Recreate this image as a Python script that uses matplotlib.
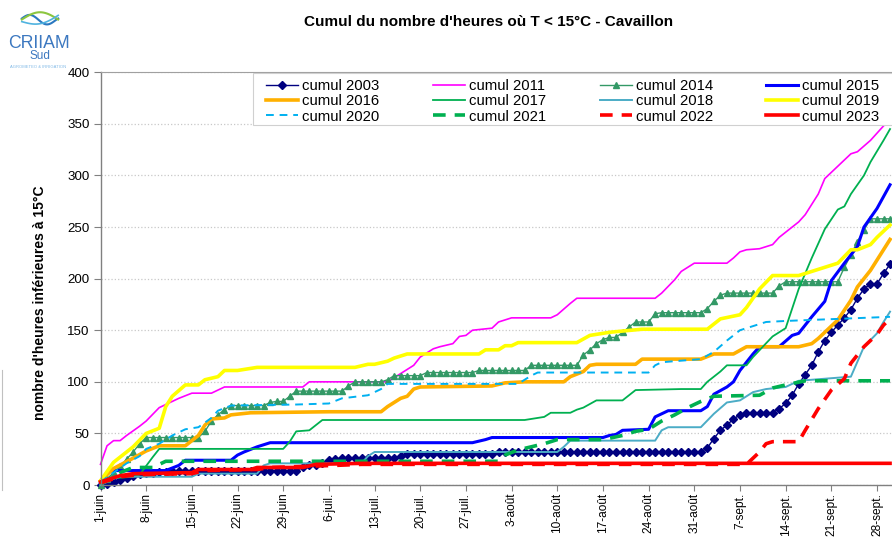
import matplotlib
matplotlib.use('Agg')
import matplotlib.pyplot as plt
import numpy as np
from matplotlib.lines import Line2D
from matplotlib.patches import Rectangle

plt.rcParams['font.family'] = ['Liberation Sans', 'DejaVu Sans']

# ---------------- data ----------------
tick_days = [0, 7, 14, 21, 28, 35, 42, 49, 56, 63, 70, 77, 84, 91, 98, 105, 112, 119]
tick_labels = ['1-juin', '8-juin', '15-juin', '22-juin', '29-juin', '6-juil.', '13-juil.',
               '20-juil.', '27-juil.', '3-août', '10-août', '17-août', '24-août', '31-août',
               '7-sept.', '14-sept.', '21-sept.', '28-sept.']

# daily values (1 June .. 30 Sept)
vals_2003 = [0, 1, 3, 5, 7, 9, 11, 12, 12, 13,
             13, 14, 14, 14, 14, 14, 14, 14, 14, 14,
             14, 14, 14, 14, 14, 14, 14, 14, 14, 14,
             14, 17, 19, 19, 21, 24, 25, 26, 26, 26,
             26, 26, 26, 26, 26, 26, 28, 30, 30, 30,
             30, 30, 30, 30, 30, 30, 30, 30, 30, 30,
             30, 32, 32, 32, 32, 32, 32, 32, 32, 32,
             32, 32, 32, 32, 32, 32, 32, 32, 32, 32,
             32, 32, 32, 32, 32, 32, 32, 32, 32, 32,
             32, 32, 32, 36, 45, 53, 58, 64, 68, 70,
             70, 70, 70, 70, 74, 79, 87, 98, 107, 116,
             129, 140, 148, 155, 162, 170, 181, 190, 195, 195,
             205, 214]
vals_2014 = [0, 6, 12, 18, 25, 32, 40, 46, 46, 46,
             46, 46, 46, 46, 46, 46, 52, 62, 68, 73,
             77, 77, 77, 77, 77, 77, 80, 81, 81, 86,
             91, 91, 91, 91, 91, 91, 91, 91, 96, 100,
             100, 100, 100, 100, 102, 106, 106, 106, 106, 106,
             109, 109, 109, 109, 109, 109, 109, 109, 111, 111,
             111, 111, 111, 111, 111, 111, 116, 116, 116, 116,
             116, 116, 116, 116, 126, 131, 137, 141, 143, 143,
             148, 153, 158, 158, 158, 166, 167, 167, 167, 167,
             167, 167, 167, 171, 178, 184, 186, 186, 186, 186,
             186, 186, 186, 186, 193, 197, 197, 197, 197, 197,
             197, 197, 197, 197, 211, 223, 236, 247, 258, 258,
             258, 258]

# break points (day index, cumulative hours) for the other years
days_2011 = [0, 1, 2, 3, 4, 6, 7, 9, 11, 12, 14, 17, 19, 31, 32, 44, 46, 48, 49, 51, 52, 54, 55, 56, 57,
             60, 61, 63, 69, 70, 72, 73, 85, 86, 88, 89, 91, 96, 97, 98, 99, 101, 103, 104, 106, 107,
             108, 110, 111, 113, 115, 116, 118, 120, 121]
vals_2011 = [20, 38, 43, 43, 48, 57, 62, 75, 81, 84, 89, 89, 95, 95, 100, 100, 108, 116, 124, 132, 134, 137,
             144, 145, 150, 152, 158, 162, 162, 165, 176, 181, 181, 186, 199, 207, 215, 215, 220, 226, 228,
             229, 233, 240, 250, 255, 262, 282, 297, 309, 321, 323, 334, 348, 354]

days_2015 = [0, 1, 2, 10, 12, 13, 20, 21, 22, 24, 26, 57, 59, 60, 77, 78, 79, 80, 84, 85, 87, 92, 93, 94,
             96, 97, 98, 100, 101, 104, 106, 107, 109, 111, 112, 114, 116, 117, 119, 121]
vals_2015 = [3, 12, 14, 14, 19, 24, 24, 29, 32, 37, 41, 41, 44, 46, 46, 48, 49, 53, 54, 66, 72, 72, 76, 88,
             95, 100, 111, 127, 134, 134, 145, 147, 163, 178, 198, 215, 231, 250, 268, 291]

days_2016 = [0, 2, 5, 7, 9, 13, 15, 16, 17, 19, 20, 23, 35, 43, 44, 46, 47, 48, 49, 60, 62, 65, 71, 72,
             74, 75, 76, 82, 83, 92, 94, 97, 99, 107, 109, 110, 113, 115, 116, 118, 120, 121]
vals_2016 = [4, 16, 26, 33, 38, 38, 48, 58, 64, 65, 68, 70, 71, 71, 76, 84, 86, 93, 95, 96, 99, 100, 100,
             105, 110, 116, 117, 117, 122, 122, 127, 127, 134, 134, 137, 142, 160, 179, 192, 208, 228, 238]

days_2017 = [0, 1, 5, 6, 8, 9, 28, 29, 30, 32, 34, 65, 68, 69, 72, 73, 74, 76, 80, 82, 89, 92, 93, 95,
             96, 99, 100, 103, 105, 107, 109, 111, 113, 114, 115, 117, 118, 120, 121]
vals_2017 = [0, 6, 8, 10, 27, 35, 35, 42, 52, 53, 63, 63, 66, 70, 70, 73, 75, 82, 82, 92, 93, 93, 100,
             110, 116, 116, 124, 144, 152, 190, 220, 248, 267, 270, 282, 300, 313, 334, 345]

days_2018 = [0, 2, 3, 14, 15, 24, 25, 26, 40, 41, 42, 70, 71, 72, 85, 86, 87, 92, 94, 96, 98, 100, 102,
             105, 107, 115, 117, 119, 120, 121]
vals_2018 = [0, 6, 8, 8, 11, 11, 19, 21, 21, 28, 32, 32, 37, 43, 43, 53, 56, 56, 69, 80, 82, 90, 93, 95,
             101, 105, 134, 147, 158, 168]

days_2019 = [0, 2, 5, 7, 9, 10, 11, 13, 15, 16, 18, 19, 21, 24, 39, 41, 42, 44, 45, 47, 58, 59, 61, 62,
             63, 64, 73, 75, 78, 83, 93, 95, 98, 99, 101, 103, 107, 109, 111, 113, 115, 116, 118, 119, 121]
vals_2019 = [4, 22, 37, 50, 55, 76, 86, 97, 97, 102, 105, 111, 111, 114, 114, 117, 117, 120, 123, 127,
             127, 131, 131, 135, 135, 138, 138, 145, 148, 151, 151, 161, 165, 172, 190, 203, 203, 207, 211,
             215, 228, 228, 233, 240, 252]

days_2020 = [0, 2, 4, 6, 7, 9, 11, 13, 15, 17, 18, 20, 30, 35, 37, 41, 43, 44, 64, 66, 67, 84, 85, 86,
             92, 94, 96, 98, 102, 105, 121]
vals_2020 = [3, 12, 21, 28, 35, 40, 48, 54, 56, 65, 72, 77, 78, 79, 84, 87, 93, 98, 98, 106, 109, 109, 116,
             119, 122, 129, 140, 150, 158, 159, 163]

days_2021 = [0, 3, 5, 8, 10, 61, 62, 64, 68, 70, 77, 80, 82, 84, 86, 88, 90, 92, 94, 101, 103, 105, 108, 121]
vals_2021 = [1, 12, 17, 17, 23, 23, 29, 34, 40, 44, 44, 48, 52, 54, 62, 68, 75, 81, 86, 87, 94, 97, 101, 101]

days_2022 = [0, 3, 6, 14, 16, 24, 26, 36, 40, 99, 100, 101, 102, 103, 107, 108, 110, 112, 114, 115, 117,
             119, 120, 121]
vals_2022 = [2, 8, 10, 11, 14, 15, 17, 19, 20, 20, 26, 32, 40, 42, 42, 53, 74, 92, 103, 118, 134, 146, 155,
             161]

days_2023 = [0, 3, 5, 14, 15, 23, 24, 31, 33, 40, 121]
vals_2023 = [3, 9, 11, 12, 15, 15, 17, 17, 20, 21, 21]

days_all = list(range(len(vals_2003)))

# ---------------- figure ----------------
W, H = 892, 538
fig = plt.figure(figsize=(W / 100, H / 100), dpi=100)
ax = fig.add_axes([100.5 / W, 1 - 485 / H, (892 - 100.5) / W, (485 - 72.3) / H])

series = [
    ('cumul 2003', days_all, vals_2003, dict(color='#000080', lw=1.0, marker='D', ms=3.6)),
    ('cumul 2011', days_2011, vals_2011, dict(color='#FF00FF', lw=1.2)),
    ('cumul 2014', days_all, vals_2014, dict(color='#339966', lw=1.0, marker='^', ms=5)),
    ('cumul 2015', days_2015, vals_2015, dict(color='#0000FF', lw=2.2)),
    ('cumul 2016', days_2016, vals_2016, dict(color='#FFB000', lw=2.6)),
    ('cumul 2017', days_2017, vals_2017, dict(color='#00B050', lw=1.3)),
    ('cumul 2018', days_2018, vals_2018, dict(color='#4BACC6', lw=1.4)),
    ('cumul 2019', days_2019, vals_2019, dict(color='#FFFF00', lw=2.6)),
    ('cumul 2020', days_2020, vals_2020, dict(color='#00B0F0', lw=1.4, ls=(0, (4, 3)))),
    ('cumul 2021', days_2021, vals_2021, dict(color='#00B050', lw=2.6, ls=(0, (3.5, 2.5)))),
    ('cumul 2022', days_2022, vals_2022, dict(color='#FF0000', lw=2.6, ls=(0, (3.5, 2.5)))),
    ('cumul 2023', days_2023, vals_2023, dict(color='#FF0000', lw=2.6)),
]

handles = {}
for label, d, v, st in series:
    ln, = ax.plot(d, v, label=label, clip_on=False, **st)
    handles[label] = ln

ax.set_xlim(0, 121.3)
ax.set_ylim(0, 400)
ax.set_yticks(range(0, 401, 50))
ax.set_xticks(tick_days)
ax.set_xticklabels(tick_labels, rotation=90, fontsize=8.6)
ax.tick_params(axis='y', labelsize=9.6, length=5, width=0.8, color='#808080', pad=3)
ax.tick_params(axis='x', length=4, width=0.8, color='#808080', pad=1.5)
ax.grid(axis='y', color='#c8c8c8', ls=':', lw=0.9)
ax.set_axisbelow(True)
for s in ['left', 'bottom']:
    ax.spines[s].set_color('#808080')
    ax.spines[s].set_linewidth(1.0)
ax.spines['top'].set_color('#a0a0a0')
ax.spines['top'].set_linewidth(0.8)
ax.spines['right'].set_visible(False)

# legend box
fig.add_artist(Rectangle((253 / W, 1 - 125 / H), (900 - 253) / W, (125 - 73) / H,
                         transform=fig.transFigure, facecolor='white', edgecolor='#d0d0d0',
                         lw=0.8, zorder=4))
order = ['cumul 2003', 'cumul 2016', 'cumul 2020',
         'cumul 2011', 'cumul 2017', 'cumul 2021',
         'cumul 2014', 'cumul 2018', 'cumul 2022',
         'cumul 2015', 'cumul 2019', 'cumul 2023']
leg = fig.legend([handles[k] for k in order], order, ncol=4,
                 loc='upper left', bbox_to_anchor=(262 / W, 1 - 75 / H),
                 fontsize=10.7, frameon=False,
                 handlelength=2.15, handletextpad=0.27, columnspacing=3.6,
                 labelspacing=0.07, borderpad=0.3, borderaxespad=0)
leg.set_zorder(5)

# titles
fig.text(489 / W, 1 - 22 / H, "Cumul du nombre d'heures où T < 15°C - Cavaillon",
         ha='center', va='center', fontsize=11, fontweight='bold')
fig.text(40 / W, 1 - 303 / H, "nombre d'heures inférieures à 15°C",
         ha='center', va='center', rotation=90, fontsize=10, fontweight='bold')

# logo
lax = fig.add_axes([20 / W, 1 - 31 / H, 40 / W, 25 / H])
lax.axis('off')
t = np.linspace(0, 1, 60)
lax.plot(t, 0.5 + 0.4 * np.sin(np.pi * t) * np.cos(np.pi * t * 1.2), color='#2a78c0', lw=1.5)
lax.plot(t, 0.45 + 0.35 * np.sin(np.pi * t), color='#8cc63f', lw=1.5)
lax.plot(t, 0.35 - 0.25 * np.sin(np.pi * t) + 0.3 * t, color='#4fb3e0', lw=1.2)
lax.set_xlim(-0.05, 1.05)
lax.set_ylim(-0.1, 1.1)
fig.text(39 / W, 1 - 43 / H, 'CRIIAM', ha='center', va='center', fontsize=12.7, color='#3c78c0')
fig.text(40 / W, 1 - 56 / H, 'Sud', ha='center', va='center', fontsize=8.5, color='#3c78c0')
fig.text(38 / W, 1 - 67 / H, 'AGROMETEO & IRRIGATION', ha='center', va='center', fontsize=3,
         color='#7fb8e6')
fig.add_artist(Line2D([2 / W, 2 / W], [1 - 370 / H, 1 - 490 / H], color='#c0c0c0', lw=0.8))

fig.savefig('out.png', dpi=100)
